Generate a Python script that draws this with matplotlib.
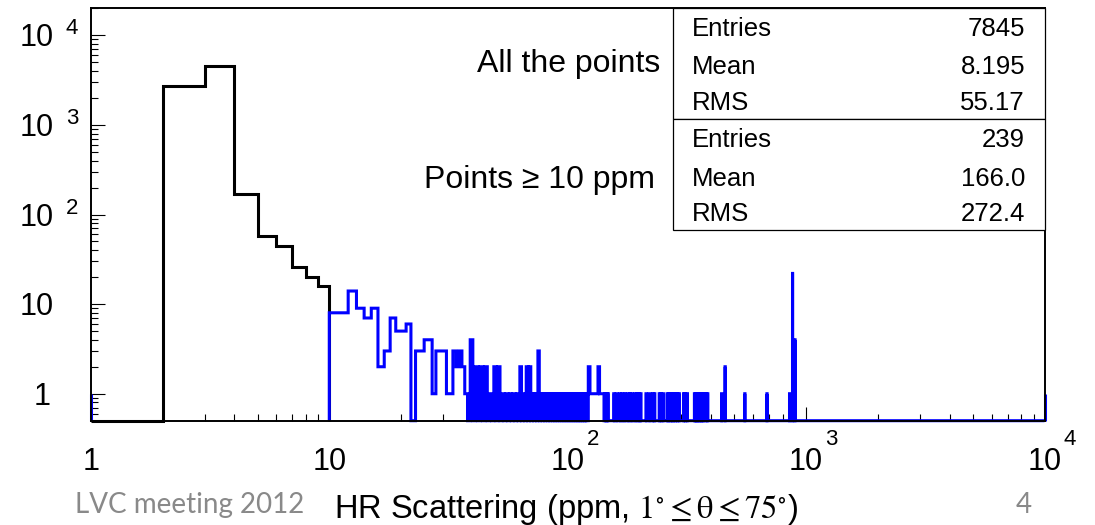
import numpy as np
import matplotlib
matplotlib.use("Agg")
import matplotlib.pyplot as plt
from matplotlib import transforms, font_manager
from matplotlib.patches import Rectangle

# ---------------- data ----------------
bin_width = 1                 # 1 ppm wide bins
x_min, x_max = 1, 10000
y_min, y_max = 0.5, 2.0e4

# all points below 10 ppm (lower bin edge, entries)
all_lo = [2, 3, 4, 5, 6, 7, 8, 9]
all_n = [2735, 4540, 168, 57, 45, 26, 20, 16]

# points >= 10 ppm (lower bin edge, entries) -- non-empty bins only
sel_lo = ([10, 11, 12, 13, 14, 15, 16, 17, 18, 19, 20, 21, 23, 24, 25, 26, 27, 28, 29, 30,
           31, 32, 33, 34, 35, 36]
          + [37, 39, 41, 43, 45, 47, 49, 51, 53, 55, 57, 59, 61, 63, 65, 67, 69, 71, 73, 75,
             77, 79, 81, 83, 85, 87, 89, 91, 93, 95, 97, 99, 101, 103, 105, 107, 109, 111, 113, 115,
             117, 119]
          + [122, 123, 124, 125, 126, 127, 128, 129, 130, 131, 132, 133, 134, 135, 136, 137, 138, 139, 140, 141,
             143, 145, 147]
          + [156, 160, 165, 169, 173, 178, 182, 186, 191, 195, 199, 202]
          + [213, 220, 227, 231, 242, 246, 251, 261, 265, 270, 274, 278, 283, 288, 293,
             306, 311, 317, 340, 344, 348, 352, 357, 362, 366, 371, 380, 386]
          + [442, 457, 553, 685, 852, 877, 898])
sel_n = ([8, 8, 14, 9, 7, 9, 2, 3, 7, 5, 5, 6, 3, 3, 4, 4, 1, 3, 3, 3,
          1, 1, 3, 2, 3, 2]
         + [1, 4, 2, 2, 2, 1, 2, 2, 1, 1, 1, 1, 1, 2, 1, 2, 2, 1, 1, 3,
            1, 1, 1, 1, 1, 1, 1, 1, 1, 1, 1, 1, 1, 1, 1, 1, 1, 1, 1, 1,
            1, 1]
         + [2, 2, 1, 1, 1, 1, 1, 1, 1, 1, 1, 1, 2, 2, 1, 1, 1, 1, 1, 1,
            1, 1, 1]
         + [1, 1, 1, 1, 1, 1, 1, 1, 1, 1, 1, 1]
         + [1, 1, 1, 1, 1, 1, 1, 1, 1, 1, 1, 1, 1, 1, 1,
            1, 1, 1, 1, 1, 1, 1, 1, 1, 1, 1, 1, 1]
         + [1, 2, 1, 1, 1, 22, 4])

x_ticks = [1, 10, 100, 1000, 10000]
x_tick_base = ["1", "10", "10", "10", "10"]
x_tick_exp = ["", "", "2", "3", "4"]
y_ticks = [1, 10, 100, 1000, 10000]
y_tick_base = ["1", "10", "10", "10", "10"]
y_tick_exp = ["", "", "2", "3", "4"]

stats_all = [("Entries", "7845"), ("Mean", "8.195"), ("RMS", "55.17")]
stats_sel = [("Entries", "239"), ("Mean", "166.0"), ("RMS", "272.4")]

label_all = "All the points"
label_sel = "Points \u2265 10 ppm"
x_title = r"HR Scattering (ppm, $\mathrm{1^{\circ} \leq \theta \leq 75^{\circ}}$)"
footer_left = "LVC meeting 2012"
footer_right = "4"

# ---------------- build histograms ----------------
edges = np.arange(x_min, x_max + bin_width, bin_width)
n_bins = len(edges) - 1
counts_sel = np.zeros(n_bins)
counts_sel[np.array(sel_lo) - x_min] = sel_n
counts_all = counts_sel.copy()
counts_all[np.array(all_lo) - x_min] += all_n

# ---------------- figure ----------------
W, H, DPI = 1095, 525, 100
fig = plt.figure(figsize=(W / DPI, H / DPI), dpi=DPI)
fig.patch.set_facecolor("white")

available = {f.name for f in font_manager.fontManager.ttflist}
narrow = "Liberation Sans Narrow" in available
tick_family = "Liberation Sans Narrow" if narrow else "Liberation Sans"
tick_fs = 26 if narrow else 22
sup_fs = 18 if narrow else 16
sans = "Liberation Sans"

ax_l, ax_r, ax_t, ax_b = 90.9, 1044.5, 8.3, 420.7
ax = fig.add_axes([ax_l / W, 1 - ax_b / H, (ax_r - ax_l) / W, (ax_b - ax_t) / H])
ax.set_xscale("log")
ax.set_yscale("log")
ax.set_xlim(x_min, x_max)
ax.set_ylim(y_min, y_max)

blue = "#0000ff"
lw = 2.2
split = 10 - x_min  # index of bin starting at 10 ppm

vals_all = np.where(counts_all > 0, counts_all, y_min)
vals_sel = np.where(counts_sel > 0, counts_sel, y_min)

ax.stairs(vals_all[:split], edges[:split + 1], baseline=y_min, color="black",
          lw=lw, zorder=3, clip_on=False)
ax.stairs(vals_sel[split:], edges[split:], baseline=y_min, color=blue,
          lw=lw, zorder=4, clip_on=False)
ax.vlines([x_min, x_max], y_min, 1.0, color=blue, lw=lw, zorder=4, clip_on=False)

# ticks
ax.set_xticks(x_ticks)
ax.set_yticks(y_ticks)
minor = [m * 10 ** d for d in range(0, 4) for m in range(2, 10)]
ax.set_xticks(minor, minor=True)
ax.set_yticks([m * 10 ** d for d in range(-1, 5) for m in range(2, 10)
               if y_min <= m * 10 ** d <= y_max], minor=True)
ax.tick_params(which="both", direction="in", labelbottom=False, labelleft=False,
               width=0.8, color="black")
ax.tick_params(which="major", length=10)
ax.tick_params(which="minor", length=5)
for s in ax.spines.values():
    s.set_linewidth(1.4)
    s.set_zorder(5)


def offs(dx, dy):
    return transforms.ScaledTranslation(dx / DPI, dy / DPI, fig.dpi_scale_trans)


# x tick labels
xtr = transforms.blended_transform_factory(ax.transData, ax.transAxes)
for t, b, e in zip(x_ticks, x_tick_base, x_tick_exp):
    ax.text(t, 0, b, transform=xtr + offs(0, -49.5), ha="center", va="baseline",
            fontsize=tick_fs, family=tick_family, clip_on=False)
    if e:
        ax.text(t, 0, e, transform=xtr + offs(19, -24), ha="left", va="baseline",
                fontsize=sup_fs, family=tick_family, clip_on=False)

# y tick labels
ytr = transforms.blended_transform_factory(ax.transAxes, ax.transData)
for t, b, e in zip(y_ticks, y_tick_base, y_tick_exp):
    cx = -49 if b == "1" else -54
    ax.text(0, t, b, transform=ytr + offs(cx, -11), ha="center", va="baseline",
            fontsize=tick_fs, family=tick_family, clip_on=False)
    if e:
        ax.text(0, t, e, transform=ytr + offs(-25, 1), ha="left", va="baseline",
                fontsize=sup_fs, family=tick_family, clip_on=False)


def fp(x, y):
    return x / W, 1 - y / H


# stats boxes
box_l, box_r = 672.7, ax_r
for top, bot in [(ax_t, 119), (119, 230)]:
    fig.patches.append(Rectangle(fp(box_l, bot), (box_r - box_l) / W, (bot - top) / H,
                                 transform=fig.transFigure, facecolor="white",
                                 edgecolor="black", lw=0.9, zorder=6))
rows_y = [36, 74, 110, 146.7, 185.7, 221]
for (name, val), yb in zip(stats_all + stats_sel, rows_y):
    fig.text(*fp(691.7, yb), name, ha="left", va="baseline", fontsize=18.5,
             family=sans, zorder=7)
    fig.text(*fp(1025, yb), val, ha="right", va="baseline", fontsize=18.5,
             family=sans, zorder=7)

fig.text(*fp(660, 72), label_all, ha="right", va="baseline", fontsize=23, family=sans)
fig.text(*fp(655, 188), label_sel, ha="right", va="baseline", fontsize=23, family=sans)

fig.text(*fp(566, 518), x_title, ha="center", va="baseline", fontsize=23.5,
         family=sans, math_fontfamily="stix")

gray = "#898989"
fig.text(*fp(75, 513), footer_left, ha="left", va="baseline", fontsize=20,
         family="Lato", color=gray)
fig.text(*fp(1024, 513), footer_right, ha="center", va="baseline", fontsize=20,
         family="Lato", color=gray)

fig.savefig("out.png", dpi=DPI, facecolor="white")
